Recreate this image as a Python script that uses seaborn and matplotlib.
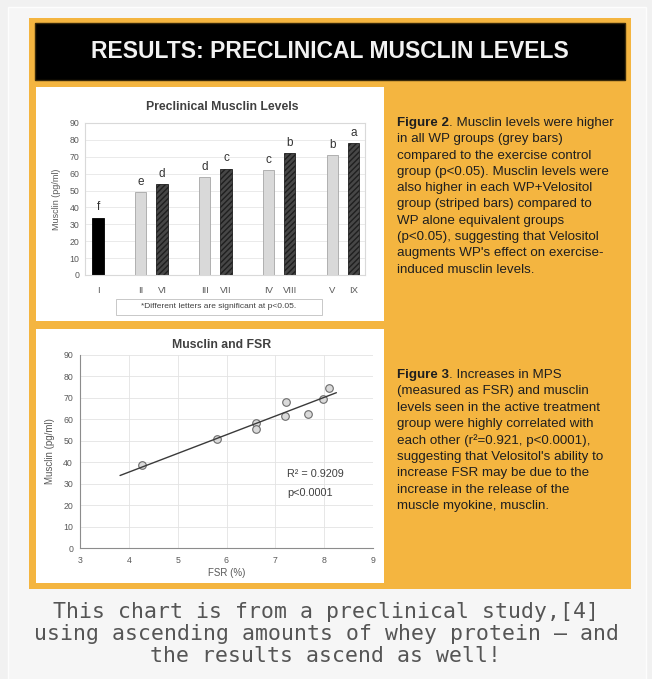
import numpy as np
import pandas as pd
import matplotlib
matplotlib.use("Agg")
import matplotlib.pyplot as plt
from matplotlib.patches import Rectangle
import seaborn as sns

# bar chart data
groups = ["I", "II", "VI", "III", "VII", "IV", "VIII", "V", "IX"]
musclin = [34, 49, 54, 58, 63, 62, 72, 71, 78]
letters = ["f", "e", "d", "d", "c", "c", "b", "b", "a"]
treatment = ["control", "WP", "WP+V", "WP", "WP+V", "WP", "WP+V", "WP", "WP+V"]
slot_order = ["I", "_a", "II", "VI", "_b", "III", "VII", "_c", "IV", "VIII", "_d", "V", "IX"]

# scatter data
fsr = [4.26, 5.80, 6.60, 6.60, 7.21, 7.19, 7.67, 7.98, 8.09]
musclin_fsr = [38.5, 50.7, 58.5, 55.4, 68.3, 61.6, 62.5, 69.5, 74.8]

fig2_lines = ["Figure 2. Musclin levels were higher",
              "in all WP groups (grey bars)",
              "compared to the exercise control",
              "group (p<0.05). Musclin levels were",
              "also higher in each WP+Velositol",
              "group (striped bars) compared to",
              "WP alone equivalent groups",
              "(p<0.05), suggesting that Velositol",
              "augments WP's effect on exercise-",
              "induced musclin levels."]
fig3_lines = ["Figure 3. Increases in MPS",
              "(measured as FSR) and musclin",
              "levels seen in the active treatment",
              "group were highly correlated with",
              "each other (r\u00b2=0.921, p<0.0001),",
              "suggesting that Velositol's ability to",
              "increase FSR may be due to the",
              "increase in the release of the",
              "muscle myokine, musclin."]
caption = ["This chart is from a preclinical study,[4]",
           "using ascending amounts of whey protein \u2014 and",
           "the results ascend as well!"]

sns.set_style("white")
plt.rcParams["font.family"] = ["Liberation Sans", "DejaVu Sans"]

W, H = 652, 679
fig = plt.figure(figsize=(W / 100, H / 100), dpi=100)
fig.patch.set_facecolor("#f1f1f1")


def box(x0, y0, x1, y1, **kw):
    r = Rectangle((x0 / W, 1 - y1 / H), (x1 - x0) / W, (y1 - y0) / H,
                  transform=fig.transFigure, **kw)
    fig.add_artist(r)
    return r


def ftext(x, y, s, **kw):
    return fig.text(x / W, 1 - y / H, s, **kw)


box(8, 7, 646, 690, facecolor="#f6f6f6", edgecolor="#fdfdfd", lw=1, zorder=-5)
orange = "#F4B540"
box(29, 18, 631, 589, facecolor=orange, edgecolor="none", zorder=-4)
box(35, 23, 625, 80, facecolor="black", edgecolor="#3a2a0a", lw=1, zorder=-3)
box(36, 87, 384, 321, facecolor="white", edgecolor="none", zorder=-3)
box(36, 329, 384, 583, facecolor="white", edgecolor="none", zorder=-3)

ftext(330, 52, "RESULTS: PRECLINICAL MUSCLIN LEVELS", color="#f2f2f2",
      fontsize=16.5, fontweight="bold", ha="center", va="center")

# ---- bar chart ----
df = pd.DataFrame({"group": groups, "musclin": musclin, "treatment": treatment})
ax1 = fig.add_axes([85 / W, 1 - 275 / H, (365 - 85) / W, (275 - 123) / H])
sns.barplot(data=df, x="group", y="musclin", order=slot_order, color="#d9d9d9",
            width=0.52, ax=ax1, errorbar=None)

style = {"control": ("black", "black", ""),
         "WP": ("#d9d9d9", "#a6a6a6", ""),
         "WP+V": ("#474747", "#1f1f1f", "//////")}
for p in ax1.patches:
    idx = int(round(p.get_x() + p.get_width() / 2))
    g = slot_order[idx]
    i = groups.index(g)
    fc, ec, hatch = style[treatment[i]]
    p.set_facecolor(fc)
    p.set_edgecolor(ec)
    p.set_hatch(hatch)
    p.set_linewidth(0.6)
    ax1.text(idx, musclin[i] + 2.5, letters[i], ha="center", va="bottom",
             fontsize=8.5, color="#333333")

ax1.set_ylim(0, 90)
ax1.set_xlim(-0.61, 12.52)
ax1.set_yticks(range(0, 91, 10))
ax1.set_xticks(range(len(slot_order)))
ax1.set_xticklabels([g if not g.startswith("_") else "" for g in slot_order])
ax1.tick_params(axis="y", labelsize=6.3, labelcolor="#595959", length=0, pad=4)
ax1.tick_params(axis="x", labelsize=6.8, labelcolor="#595959", length=0, pad=8)
ax1.yaxis.grid(True, color="#e6e6e6", lw=0.6)
ax1.set_axisbelow(True)
for s in ax1.spines.values():
    s.set_color("#d9d9d9")
    s.set_linewidth(0.8)
ax1.set_xlabel("")
ax1.set_ylabel("Musclin (pg/ml)", fontsize=6.5, color="#595959", labelpad=6)
ftext(222, 107, "Preclinical Musclin Levels", fontsize=8.8, fontweight="bold",
      color="#404040", ha="center", va="center")
box(116, 299, 322, 315, facecolor="white", edgecolor="#bfbfbf", lw=0.6, zorder=2)
ftext(219, 307, "*Different letters are significant at p<0.05.", fontsize=6,
      color="#404040", ha="center", va="center")

# ---- scatter chart ----
ax2 = fig.add_axes([80 / W, 1 - 548 / H, (373 - 80) / W, (548 - 355) / H])
sns.scatterplot(x=fsr, y=musclin_fsr, ax=ax2, s=30, color="#dadada",
                edgecolor="#6b6b6b", linewidth=0.8, zorder=3)
coef = np.polyfit(fsr, musclin_fsr, 1)
xs = np.array([3.82, 8.25])
sns.lineplot(x=xs, y=np.polyval(coef, xs), ax=ax2, color="#3a3a3a", lw=1, zorder=4)
ax2.set_xlim(3, 9)
ax2.set_ylim(0, 90)
ax2.set_xticks(range(3, 10))
ax2.set_yticks(range(0, 91, 10))
ax2.grid(True, color="#e3e3e3", lw=0.6)
ax2.set_axisbelow(True)
ax2.tick_params(axis="y", labelsize=6.3, labelcolor="#595959", length=0, pad=5)
ax2.tick_params(axis="x", labelsize=6.3, labelcolor="#595959", length=0, pad=6)
for side in ["top", "right"]:
    ax2.spines[side].set_visible(False)
for side in ["left", "bottom"]:
    ax2.spines[side].set_color("#8c8c8c")
    ax2.spines[side].set_linewidth(0.8)
ax2.set_xlabel("FSR (%)", fontsize=7, color="#595959", labelpad=2)
ax2.set_ylabel("Musclin (pg/ml)", fontsize=7, color="#595959", labelpad=6)
ax2.text(7.24, 34.5, "R\u00b2 = 0.9209", fontsize=7.8, color="#404040", va="center")
ax2.text(7.24, 25.6, "p<0.0001", fontsize=7.8, color="#404040", va="center")
ftext(222, 345, "Musclin and FSR", fontsize=8.8, fontweight="bold",
      color="#404040", ha="center", va="center")

# ---- side texts ----
renderer = fig.canvas.get_renderer()


def paragraph(lines, x, y0, dy):
    for k, line in enumerate(lines):
        y = y0 + k * dy
        if k == 0:
            head, rest = line.split(".", 1)
            t = ftext(x, y, head, fontsize=9.6, fontweight="bold",
                      color="#1f1f1f", va="center")
            bb = t.get_window_extent(renderer)
            ftext(x + bb.width, y, "." + rest, fontsize=9.6,
                  color="#1f1f1f", va="center")
        else:
            ftext(x, y, line, fontsize=9.6, color="#1f1f1f", va="center")


paragraph(fig2_lines, 397, 123, 16.3)
paragraph(fig3_lines, 397, 375, 16.4)

for k, line in enumerate(caption):
    ftext(326, 612 + 22 * k, line, fontsize=15.5, family="DejaVu Sans Mono",
          color="#555555", ha="center", va="center")

fig.savefig("out.png", dpi=100, facecolor=fig.get_facecolor())
